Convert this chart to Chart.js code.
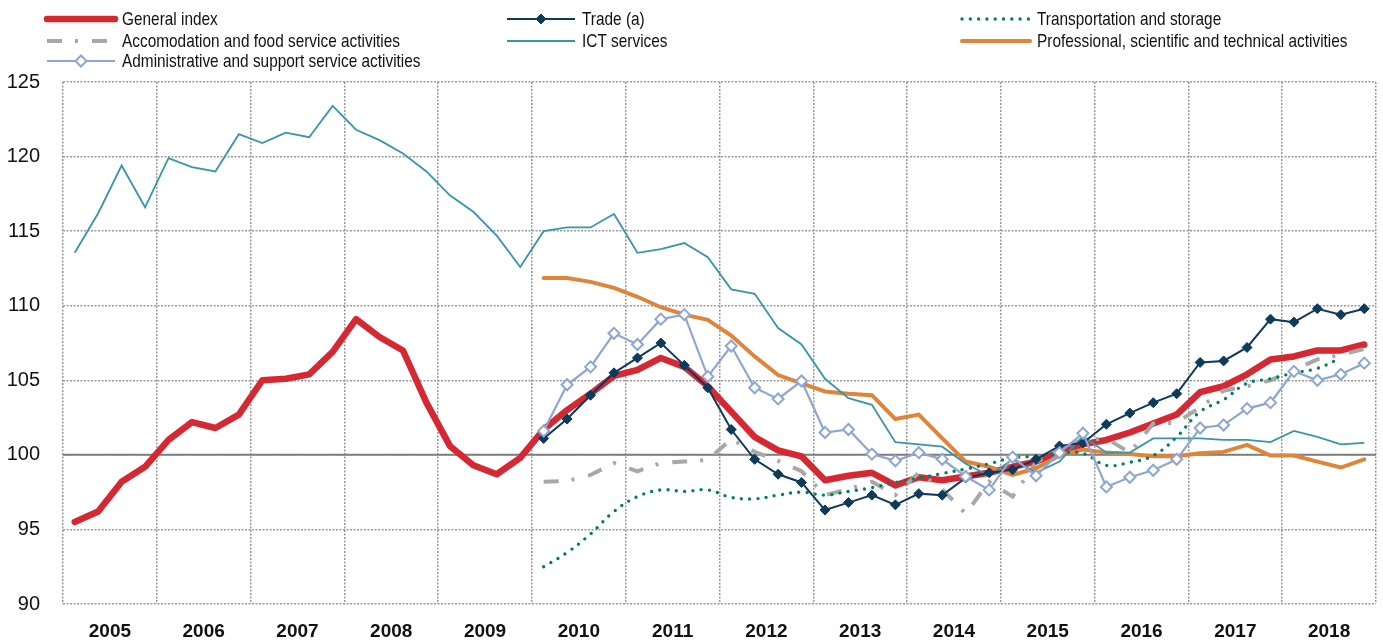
<!DOCTYPE html>
<html>
<head>
<meta charset="utf-8">
<script src="https://cdn.jsdelivr.net/npm/chart.js@4"></script>
<style>
  html, body { margin: 0; padding: 0; background: #fff; overflow: hidden; }
  #wrap { width: 1383px; height: 641px; position: relative; }
  #chart { display: block; }
</style>
</head>
<body>
<div id="wrap"><canvas id="chart"></canvas></div>
<script>
// Quarterly indices, 2005 Q1 - 2018 Q4 (base 100)
const years = ['2005', '2006', '2007', '2008', '2009', '2010', '2011',
               '2012', '2013', '2014', '2015', '2016', '2017', '2018'];
const quartersPerYear = 4;

const generalIndex = [
  95.5, 96.2, 98.2, 99.2,   101.0, 102.2, 101.8, 102.7,
  105.0, 105.1, 105.4, 106.9, 109.1, 107.9, 107.0, 103.5,
  100.6, 99.3, 98.7, 99.8,  101.7, 103.0, 104.1, 105.3,
  105.7, 106.5, 105.9, 104.6, 102.9, 101.2, 100.3, 99.9,
  98.3, 98.6, 98.8, 97.95,  98.5, 98.3, 98.55, 98.8,
  99.2, 99.55, 100.15, 100.7, 101.0, 101.5, 102.1, 102.7,
  104.2, 104.6, 105.4, 106.4, 106.6, 107.0, 107.0, 107.4
];
const ictServices = [
  113.55, 116.2, 119.4, 116.6, 119.9, 119.3, 119.0, 121.5,
  120.9, 121.6, 121.3, 123.4,  121.8, 121.1, 120.2, 119.0,
  117.4, 116.3, 114.7, 112.6,  115.0, 115.25, 115.25, 116.15,
  113.55, 113.8, 114.2, 113.25, 111.1, 110.8, 108.5, 107.4,
  105.1, 103.8, 103.35, 100.85, 100.7, 100.55, 99.4, 98.6,
  99.7, 98.8, 99.55, 101.25,   100.15, 100.15, 101.1, 101.1,
  101.1, 101.0, 101.0, 100.85, 101.6, 101.2, 100.7, 100.8
];

// the sector series start in 2010 Q1
const sectorStart = 20;
const trade = [
  101.1, 102.4, 104.0, 105.5,  106.5, 107.5, 106.0, 104.5,
  101.7, 99.7, 98.7, 98.15,    96.3, 96.8, 97.3, 96.65,
  97.4, 97.3, 98.45, 98.8,     99.0, 99.7, 100.6, 100.8,
  102.05, 102.8, 103.5, 104.1, 106.2, 106.3, 107.2, 109.1,
  108.9, 109.8, 109.4, 109.8
];
const transportation = [
  92.5, 93.45, 94.7, 96.2,     97.2, 97.65, 97.55, 97.65,
  97.15, 97.05, 97.3, 97.5,    97.3, 97.55, 97.8, 98.15,
  98.45, 98.75, 99.05, 99.4,   99.8, 99.9, 100.1, 100.1,
  99.3, 99.5, 99.95, 101.2,    102.9, 103.7, 104.8, 105.1,
  105.5, 105.8, 106.5, null
];
const accommodation = [
  98.2, 98.25, 98.65, 99.45,   98.9, 99.45, 99.55, 99.65,
  101.05, 100.2, 99.6, 98.9,   97.3, 97.7, 98.2, 97.3,
  98.8, 97.7, 96.05, 98.2,     97.2, 99.5, 100.4, 101.0,
  101.1, 100.15, 102.1, 102.15, 103.2, 104.3, 104.6, 105.0,
  105.7, 106.4, 106.7, 107.1
];
const professional = [
  111.85, 111.85, 111.6, 111.2, 110.6, 109.9, 109.4, 109.05,
  108.0, 106.6, 105.35, 104.8,  104.25, 104.1, 104.0, 102.4,
  102.7, 101.1, 99.55, 99.2,    98.65, 99.1, 99.95, 100.35,
  100.15, 100.05, 99.9, 99.9,   100.1, 100.2, 100.67, 99.95,
  99.95, 99.55, 99.15, 99.7
];
const administrative = [
  101.6, 104.7, 105.9, 108.15,  107.4, 109.1, 109.4, 105.25,
  107.3, 104.5, 103.75, 104.95, 101.5, 101.7, 100.05, 99.6,
  100.15, 99.7, 98.55, 97.65,   99.85, 98.6, 100.15, 101.45,
  97.85, 98.5, 98.97, 99.7,     101.8, 102.0, 103.1, 103.5,
  105.6, 105.0, 105.4, 106.15
];

const yTicks = { min: 90, max: 125, step: 5 };
const totalQuarters = years.length * quartersPerYear;

// series values -> points centred in their quarter
function toPoints(values, start) {
  return values.map((v, i) => ({ x: start + i + 0.5, y: v }));
}

const FONT = '"Liberation Sans", Arial, sans-serif';
const gridColor = '#999999';

// legend layout: [dataset label, column, row]
const legendSlots = [
  ['General index', 0, 0], ['Trade (a)', 1, 0], ['Transportation and storage', 2, 0],
  ['Accomodation and food service activities', 0, 1], ['ICT services', 1, 1],
  ['Professional, scientific and technical activities', 2, 1],
  ['Administrative and support service activities', 0, 2]
];

const legendPlugin = {
  id: 'gridLegend',
  afterDraw(chart) {
    const ctx = chart.ctx;
    const colX = [47, 507, 962];
    const rowY = [19, 41, 61];
    const sampleLen = 68;
    const squeeze = 0.81; // the source font is a condensed face
    legendSlots.forEach(([label, col, row]) => {
      const ds = chart.data.datasets.find(d => d.label === label);
      const x0 = colX[col], y = rowY[row];
      ctx.save();
      ctx.strokeStyle = ds.borderColor;
      ctx.lineWidth = ds.borderWidth;
      ctx.lineCap = ds.borderCapStyle || 'butt';
      ctx.setLineDash(ds.borderDash || []);
      ctx.beginPath();
      ctx.moveTo(x0, y);
      ctx.lineTo(x0 + sampleLen, y);
      ctx.stroke();
      if (ds.pointRadius > 0) {
        const r = ds.pointRadius;
        const cx = x0 + sampleLen / 2;
        ctx.setLineDash([]);
        ctx.beginPath();
        ctx.moveTo(cx, y - r); ctx.lineTo(cx + r, y); ctx.lineTo(cx, y + r); ctx.lineTo(cx - r, y);
        ctx.closePath();
        ctx.fillStyle = ds.pointBackgroundColor;
        ctx.fill();
        ctx.lineWidth = ds.pointBorderWidth;
        ctx.strokeStyle = ds.pointBorderColor;
        ctx.stroke();
      }
      ctx.translate(x0 + sampleLen + 7, y + 1);
      ctx.scale(squeeze, 1);
      ctx.fillStyle = '#111';
      ctx.font = '19px ' + FONT;
      ctx.textBaseline = 'middle';
      ctx.fillText(label, 0, 0);
      ctx.restore();
    });
  }
};

// solid base-100 line
const baseLine = {
  id: 'baseLine',
  beforeDatasetsDraw(chart) {
    const { ctx, chartArea } = chart;
    const y = chart.scales.y.getPixelForValue(100);
    ctx.save();
    ctx.strokeStyle = '#7f7f7f';
    ctx.lineWidth = 2;
    ctx.beginPath();
    ctx.moveTo(chartArea.left, y);
    ctx.lineTo(chartArea.right, y);
    ctx.stroke();
    ctx.restore();
  }
};

const common = { pointRadius: 0, fill: false, tension: 0, spanGaps: false };

new Chart(document.getElementById('chart'), {
  type: 'line',
  data: {
    datasets: [
      { ...common, label: 'Administrative and support service activities',
        data: toPoints(administrative, sectorStart), order: 1,
        borderColor: '#8ea6d2', borderWidth: 2.2,
        pointRadius: 5.5, pointStyle: 'rectRot', pointBackgroundColor: '#ffffff',
        pointBorderColor: '#8ea6d2', pointBorderWidth: 2 },
      { ...common, label: 'Trade (a)', data: toPoints(trade, sectorStart), order: 2,
        borderColor: '#0e3a5c', borderWidth: 2,
        pointRadius: 5, pointStyle: 'rectRot', pointBackgroundColor: '#0e3a5c',
        pointBorderColor: '#0e3a5c', pointBorderWidth: 1 },
      { ...common, label: 'Transportation and storage', data: toPoints(transportation, sectorStart), order: 3,
        borderColor: '#00805f', borderWidth: 3.4, borderDash: [0, 8.3], borderCapStyle: 'round',
        tension: 0.4 },
      { ...common, label: 'ICT services', data: toPoints(ictServices, 0), order: 4,
        borderColor: '#3796aa', borderWidth: 1.8 },
      { ...common, label: 'Professional, scientific and technical activities',
        data: toPoints(professional, sectorStart), order: 5,
        borderColor: '#e0843a', borderWidth: 4, borderCapStyle: 'round' },
      { ...common, label: 'Accomodation and food service activities',
        data: toPoints(accommodation, sectorStart), order: 6,
        borderColor: '#a8a8a8', borderWidth: 4, borderDash: [15, 13, 3, 14] },
      { ...common, label: 'General index', data: toPoints(generalIndex, 0), order: 7,
        borderColor: '#d62832', borderWidth: 6.5, borderCapStyle: 'round', borderJoinStyle: 'round' }
    ]
  },
  options: {
    responsive: true,
    maintainAspectRatio: false,
    animation: false,
    layout: { autoPadding: false, padding: { top: 82, right: 7, left: 0, bottom: 0 } },
    plugins: { legend: { display: false }, tooltip: { enabled: false } },
    scales: {
      x: {
        type: 'linear',
        min: 0,
        max: totalQuarters,
        afterBuildTicks: (scale) => {
          const ticks = [];
          for (let v = 0; v <= totalQuarters; v += quartersPerYear / 2) ticks.push({ value: v });
          scale.ticks = ticks;
        },
        afterFit: (scale) => { scale.height = 37; },
        grid: {
          drawTicks: true,
          tickLength: 9,
          tickColor: 'rgba(0,0,0,0)',
          lineWidth: 1.5,
          color: (c) => (c.tick && c.tick.value % quartersPerYear === 0) ? gridColor : 'rgba(0,0,0,0)'
        },
        border: { display: false, dash: [2, 1.5] },
        ticks: {
          autoSkip: false,
          maxRotation: 0,
          padding: 7,
          color: '#111',
          font: { family: FONT, size: 19, weight: 'bold' },
          callback: (v) => (v % quartersPerYear === quartersPerYear / 2) ? years[(v - quartersPerYear / 2) / quartersPerYear] : ''
        }
      },
      y: {
        min: yTicks.min,
        max: yTicks.max,
        afterFit: (scale) => { scale.width = 63; },
        grid: { drawTicks: false, lineWidth: 1.5, color: gridColor },
        border: { display: false, dash: [2, 1.5] },
        ticks: {
          stepSize: yTicks.step,
          padding: 23,
          color: '#111',
          font: { family: FONT, size: 20 }
        }
      }
    }
  },
  plugins: [baseLine, legendPlugin]
});
</script>
</body>
</html>
